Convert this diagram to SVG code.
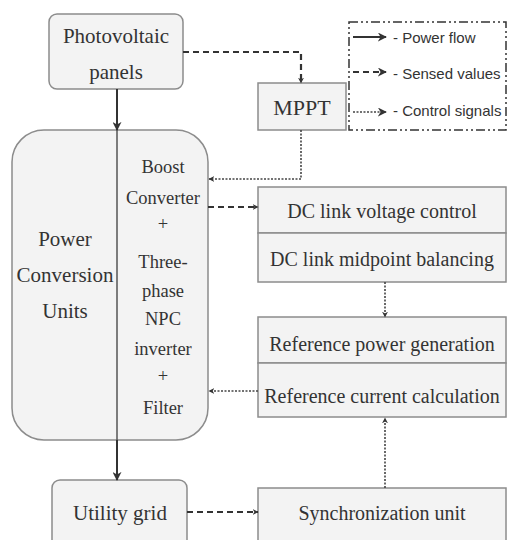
<svg xmlns="http://www.w3.org/2000/svg" width="508" height="540" viewBox="0 0 508 540">
<defs>
<style>
.box{fill:#f3f3f3;stroke:#8c8c8c;stroke-width:1.5}
.t{fill:#333;text-anchor:middle}
.big{font-size:21px}
.mid{font-size:18.5px}
.blk{font-size:20px}
.lg{font-size:15px;fill:#333}
.solid{stroke:#333;stroke-width:2;fill:none}
.dash{stroke:#333;stroke-width:2.2;fill:none;stroke-dasharray:6,4}
.dot{stroke:#444;stroke-width:1.6;fill:none;stroke-dasharray:2,1.5}
</style>
<marker id="ah" viewBox="0 0 10 10" refX="9" refY="5" markerWidth="6" markerHeight="6" orient="auto" markerUnits="userSpaceOnUse">
<path d="M0,0 L10,5 L0,10 L3,5 z" fill="#333"/>
</marker>
<marker id="ahs" viewBox="0 0 10 10" refX="9" refY="5" markerWidth="9" markerHeight="9" orient="auto" markerUnits="userSpaceOnUse">
<path d="M0,0 L10,5 L0,10 L3,5 z" fill="#333"/>
</marker>
</defs>

<g id="legend" font-family="Liberation Sans, Arial, sans-serif">
<path d="M349,22 H506 V130 H349 Z" fill="#fff" stroke="#333" stroke-width="1.5" stroke-dasharray="9,3,2,3,2,3"/>
<line x1="353" y1="37" x2="386" y2="37" class="solid" marker-end="url(#ahs)"/>
<text x="393" y="43" class="lg">- Power flow</text>
<line x1="353" y1="72" x2="386" y2="72" class="dash" stroke-dasharray="5,3" marker-end="url(#ahs)"/>
<text x="393" y="79" class="lg">- Sensed values</text>
<line x1="353" y1="112" x2="386" y2="112" class="dot" marker-end="url(#ahs)"/>
<text x="393" y="116" class="lg">- Control signals</text>
</g>

<g font-family="Liberation Serif, Times New Roman, serif">
<g id="pv">
<rect x="49" y="14" width="134" height="75" rx="8" class="box"/>
<text x="116" y="43" class="t big">Photovoltaic</text>
<text x="116" y="79" class="t big">panels</text>
</g>

<g id="mppt">
<rect x="258" y="83" width="88" height="47" class="box"/>
<text x="302" y="115" class="t" font-size="22">MPPT</text>
</g>

<g id="pcu">
<rect x="12" y="130" width="196" height="310" rx="32" class="box"/>
<line x1="117" y1="130" x2="117" y2="440" stroke="#555" stroke-width="1.5"/>
<text x="65" y="246" class="t big">Power</text>
<text x="65" y="282" class="t big">Conversion</text>
<text x="65" y="318" class="t big">Units</text>
<text x="163" y="173" class="t mid">Boost</text>
<text x="163" y="204" class="t mid">Converter</text>
<text x="163" y="230" class="t mid">+</text>
<text x="163" y="268" class="t mid">Three-</text>
<text x="163" y="297" class="t mid">phase</text>
<text x="163" y="325" class="t mid">NPC</text>
<text x="163" y="355" class="t mid">inverter</text>
<text x="163" y="382" class="t mid">+</text>
<text x="163" y="414" class="t mid">Filter</text>
</g>

<g id="dclink">
<rect x="258" y="187" width="248" height="46" class="box"/>
<rect x="258" y="233" width="248" height="49" class="box"/>
<text x="382" y="218" class="t blk">DC link voltage control</text>
<text x="382" y="266" class="t blk">DC link midpoint balancing</text>
</g>

<g id="reference">
<rect x="258" y="317" width="248" height="46" class="box"/>
<rect x="258" y="363" width="248" height="54" class="box"/>
<text x="382" y="351" class="t blk">Reference power generation</text>
<text x="382" y="403" class="t blk">Reference current calculation</text>
</g>

<g id="grid">
<rect x="52" y="480" width="135" height="70" rx="8" class="box"/>
<text x="120" y="520" class="t big">Utility grid</text>
</g>

<g id="sync">
<rect x="258" y="488" width="248" height="60" class="box"/>
<text x="382" y="520" class="t blk">Synchronization unit</text>
</g>
</g>

<g id="connectors">
<line x1="117" y1="89" x2="117" y2="130" class="solid" marker-end="url(#ahs)"/>
<line x1="117" y1="440" x2="117" y2="480" class="solid" marker-end="url(#ahs)"/>
<path d="M183,52 H301 V83" class="dash" marker-end="url(#ah)"/>
<path d="M301,130 V179 H209" class="dot" marker-end="url(#ah)"/>
<line x1="208" y1="207" x2="258" y2="207" class="dash" marker-end="url(#ah)"/>
<line x1="385" y1="282" x2="385" y2="317" class="dot" marker-end="url(#ah)"/>
<line x1="258" y1="391" x2="209" y2="391" class="dot" marker-end="url(#ah)"/>
<line x1="187" y1="512" x2="258" y2="512" class="dash" marker-end="url(#ah)"/>
<line x1="385" y1="488" x2="385" y2="418" class="dot" marker-end="url(#ah)"/>
</g>
</svg>
